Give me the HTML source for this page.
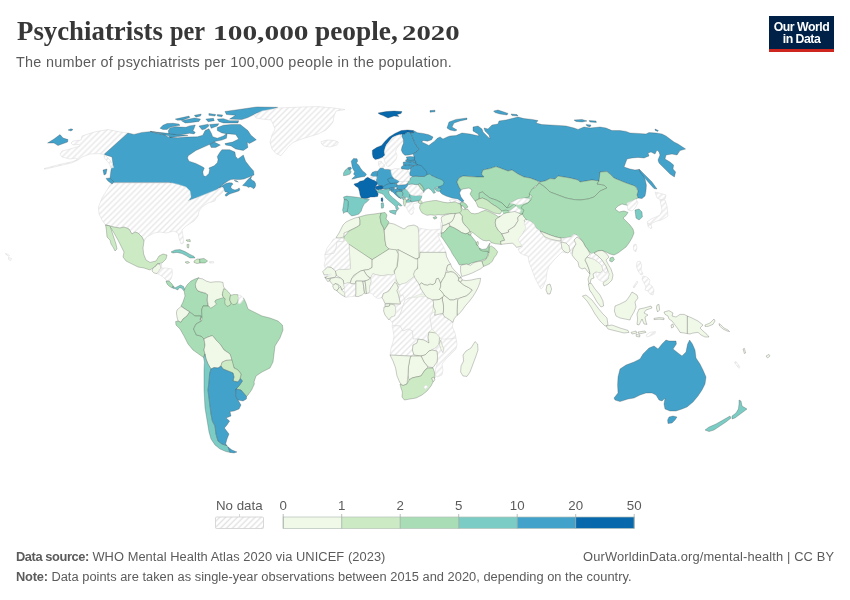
<!DOCTYPE html>
<html lang="en"><head><meta charset="utf-8"><title>Psychiatrists per 100,000 people, 2020</title>
<style>
html,body{margin:0;padding:0;background:#fff;}
body{width:850px;height:600px;position:relative;overflow:hidden;font-family:"Liberation Sans",sans-serif;color:#5b5b5b;}
.abs{position:absolute;white-space:nowrap;}
.w{display:inline-block;transform-origin:left center;white-space:nowrap;}
#title{left:17px;top:16px;font-family:"Liberation Serif",serif;font-weight:bold;font-size:27.5px;line-height:30px;color:#373737;letter-spacing:0px;}
#subtitle{left:16px;top:52.6px;font-size:14.4px;line-height:18px;color:#5b5b5b;letter-spacing:0.27px;}
#logo{left:769px;top:16px;width:65px;height:36px;background:#002147;border-bottom:0;}
#logo .bar{position:absolute;left:0;bottom:0;width:65px;height:3px;background:#ce261e;}
#logo .t{position:absolute;left:0;width:65px;text-align:center;color:#fff;font-weight:bold;font-size:12.3px;line-height:12px;letter-spacing:-0.5px;}
.lg{font-size:13.3px;line-height:14px;color:#5b5b5b;}
.ft{font-size:12.85px;line-height:15px;color:#5b5b5b;}
.ft b{font-weight:bold;}
</style></head><body>
<div id="title" class="abs"><span class="w" style="width:144.6px;transform:scaleX(0.975)">Psychiatrists</span> <span class="w" style="width:34.7px;transform:scaleX(0.885);margin-left:1.4px">per</span> <span class="w" style="width:92.7px;transform:scaleX(1.40);margin-left:1.5px;font-size:21px">100,000</span> <span class="w" style="width:81.1px;transform:scaleX(0.995);margin-left:3px">people,</span> <span class="w" style="width:55.2px;transform:scaleX(1.37);margin-left:-1.4px;font-size:21px">2020</span></div>
<div id="subtitle" class="abs">The number of psychiatrists per 100,000 people in the population.</div>
<div id="logo" class="abs"><div class="t" style="top:4.7px">Our World</div><div class="t" style="top:16.7px">in Data</div><div class="bar"></div></div>
<svg class="abs" style="left:0;top:0" width="850" height="600" viewBox="0 0 850 600">
<defs><pattern id="hatch" patternUnits="userSpaceOnUse" width="5.9" height="5.9" patternTransform="translate(0.8 0)"><rect width="5.9" height="5.9" fill="#fff"/><path d="M-2,2L2,-2M-1,6.9L6.9,-1M3.9,7.9L7.9,3.9" stroke="#e8e8e8" stroke-width="1.4" fill="none"/></pattern><pattern id="hatchl" patternUnits="userSpaceOnUse" width="4.17" height="4.17" patternTransform="translate(218 528) rotate(-45)"><rect width="4.17" height="4.17" fill="#fff"/><line x1="0" y1="2" x2="4.17" y2="2" stroke="#e2e2e2" stroke-width="1.4"/></pattern></defs>
<g id="map">
<path d="M345,250L430,250L450,290L440,340L420,385L406,386L397,350L391,310L386,280L345,275Z" fill="#f0f9e8" stroke="none" stroke-width="0.5" stroke-linejoin="round"/>
<path d="M498,200L530,194L534,214L505,218Z" fill="#a8ddb5" stroke="none" stroke-width="0.5" stroke-linejoin="round"/>
<path d="M47.6,143L54,139L60,134.6L63,138L68,139.6L67.6,142L62,144L58,145.6L54,143Z" fill="#43a2ca" stroke="rgba(50,50,50,0.5)" stroke-width="0.5" stroke-linejoin="round"/>
<path d="M68,130L71,128.8L73,129.6L71,131Z" fill="#43a2ca" stroke="rgba(50,50,50,0.5)" stroke-width="0.5" stroke-linejoin="round"/>
<path d="M128,133L118,131.6L108,129.6L96,131.6L88,134L82,136L81,140L73,141L71,143L73,145L79,144.4L80,146L70,149L62,151L60,154L62,157L70,159L76,158L77,160L71,162L60,164.4L44,168.6L45,169.2L60,165.6L72,162.8L78,160L82,157L90,154L98,153.6L104,154.4Z" fill="url(#hatch)" stroke="#d9d9d9" stroke-width="0.5" stroke-linejoin="round"/>
<path d="M104,154.4L128,133L134,134.4L142,132.4L152,131.4L158,133L168,135.6L170,137.6L178,136.6L188,135.6L150,131.36L156.12,133.04L165.3,135.03L168.35,137.17L177.53,137.78L186.71,137.01L197.42,136.86L202.77,135.18L205.06,130.59L208.89,128.75L211.18,132.88L212.71,136.71L217.3,138.24L223.42,135.94L227.24,132.88L226.48,138.24L221.89,140.07L215.77,141.3L208.12,145.12L195.89,150.47L188.24,155.83L187.47,158.12L189,161.18L195.89,163.48L202,166.53L204.3,168.06L202.77,171.89L203.53,175.71L205.83,176.48L208.89,173.42L209.65,169.59L208.89,168.06L214.24,165.77L217.3,162.71L218.06,159.65L217.3,156.59L219.59,152.77L221.89,149.71L229.54,149.71L234.89,152L235.65,156.59L237.95,158.89L243.3,155.06L245.59,161.18L250,167L253.6,171L254,175L249,177L244,179L240,179.58L236.67,179.58L233.33,179.17L230.83,179.58L228.33,180.83L225,182.92L221.67,185.42L219.58,187.33L222.5,185.42L225.83,183.58L229.17,182.67L232.08,182.92L232.92,184.17L231.25,185.83L230.83,187.5L232.5,189.17L235,190L237.5,189.17L239.17,187.92L239.83,189.17L239.17,190.83L236.67,191.67L234.17,192.5L231.67,193.33L229.17,194.17L227.08,195.83L225.83,196.25L225,195L226.67,193.33L228.33,192.5L225,191.67L224.17,190L223.75,187.92L222.5,187.08L220.42,187.92L219.17,187.67L213,193L204,196L196,198L188,201L191,197L190,193L186,189L178,185L170,183L170,182.6L114,182.6L110,178L111,170L113,164L112,157Z" fill="#43a2ca" stroke="rgba(50,50,50,0.5)" stroke-width="0.5" stroke-linejoin="round"/>
<path d="M242.5,185.42L245,182.92L247.5,180L250,177.5L252.08,176.25L250.83,178.33L251.67,180L254.17,181.25L255.42,183.33L255.67,185.83L254.58,187.92L253.33,188.75L252.08,187.5L250,186.67L248.75,187.5L246.67,186.25L244.17,185.83Z" fill="#43a2ca" stroke="rgba(50,50,50,0.5)" stroke-width="0.5" stroke-linejoin="round"/>
<path d="M234.17,180.42L236.67,180.83L238.33,182.08L235.83,181.5Z" fill="#43a2ca" stroke="rgba(50,50,50,0.5)" stroke-width="0.5" stroke-linejoin="round"/>
<path d="M160,128.24L162.94,125.29L167.06,123.53L172.94,123.29L178.82,124.12L180,125.29L175.29,126.12L170,127.29L167.06,129.41L162.94,129.41Z" fill="#43a2ca" stroke="rgba(50,50,50,0.5)" stroke-width="0.5" stroke-linejoin="round"/>
<path d="M168.24,130.82L170,127.88L175.29,126.71L180,127.06L185.88,127.29L189.41,125.88L195.29,124.94L194.12,128.24L192.94,130.82L195.29,132.35L194.12,133.88L189.41,133.29L185.88,134.12L181.76,134.47L177.65,135.06L172.94,134.12L168.82,133.65Z" fill="#43a2ca" stroke="rgba(50,50,50,0.5)" stroke-width="0.5" stroke-linejoin="round"/>
<path d="M175.24,119.12L189,116.06L189.77,117.59L182.88,119.88L177.53,120.19Z" fill="#43a2ca" stroke="rgba(50,50,50,0.5)" stroke-width="0.5" stroke-linejoin="round"/>
<path d="M181.36,120.65L194.36,118.05L200.47,119.12L198.94,121.41L189.77,122.64L185.18,122.94Z" fill="#43a2ca" stroke="rgba(50,50,50,0.5)" stroke-width="0.5" stroke-linejoin="round"/>
<path d="M194.36,115.3L201.24,114.07L200.47,116.06L195.89,117.13Z" fill="#43a2ca" stroke="rgba(50,50,50,0.5)" stroke-width="0.5" stroke-linejoin="round"/>
<path d="M208.89,113.46L215.77,114.53L215,116.06L208.89,115.3Z" fill="#43a2ca" stroke="rgba(50,50,50,0.5)" stroke-width="0.5" stroke-linejoin="round"/>
<path d="M217.3,114.53L222.65,114.99L221.89,116.82L217.3,116.06Z" fill="#43a2ca" stroke="rgba(50,50,50,0.5)" stroke-width="0.5" stroke-linejoin="round"/>
<path d="M205.83,119.12L213.48,118.35L214.24,120.65L208.12,121.72Z" fill="#43a2ca" stroke="rgba(50,50,50,0.5)" stroke-width="0.5" stroke-linejoin="round"/>
<path d="M224.95,111.47L235.65,109.94L257.07,106.88L277.71,107.34L272.36,109.48L257.07,113L247.89,117.59L241.77,119.58L229.54,119.12L235.65,115.3L226.48,114.53Z" fill="#43a2ca" stroke="rgba(50,50,50,0.5)" stroke-width="0.5" stroke-linejoin="round"/>
<path d="M217.3,119.12L223.42,118.66L229.54,120.65L238.71,120.65L237.95,122.94L223.42,122.94L218.83,121.41Z" fill="#43a2ca" stroke="rgba(50,50,50,0.5)" stroke-width="0.5" stroke-linejoin="round"/>
<path d="M198.94,126L208.12,124.17L208.89,126L205.06,129.06L202,129.83Z" fill="#43a2ca" stroke="rgba(50,50,50,0.5)" stroke-width="0.5" stroke-linejoin="round"/>
<path d="M209.65,124.47L218.83,123.71L217.3,126L211.18,128.3Z" fill="#43a2ca" stroke="rgba(50,50,50,0.5)" stroke-width="0.5" stroke-linejoin="round"/>
<path d="M217.3,127.53L223.42,125.24L231.06,124.47L240.24,124.47L247.89,130.59L250.95,135.18L256.3,139.77L249.42,143.59L247.12,142.06L247.89,147.42L243.3,150.47L235.65,148.94L231.06,145.89L225.71,145.12L224.95,143.59L232.59,142.06L238.71,139L235.65,134.41L226.48,133.65L221.89,132.88L217.3,130.59Z" fill="#43a2ca" stroke="rgba(50,50,50,0.5)" stroke-width="0.5" stroke-linejoin="round"/>
<path d="M209.65,144.36L214.24,142.06L220.36,145.12L215.77,147.42L211.18,147.42Z" fill="#43a2ca" stroke="rgba(50,50,50,0.5)" stroke-width="0.5" stroke-linejoin="round"/>
<path d="M113.6,183L172,183L178,184.4L186,187L190,191L191,197L188,201L196,198L206,194L216,190L222,187L224,190L222,193L216,198L215,201L208,203L202,207L199,211L198,216L194,221L186,226L182,230L183,236L183.6,243L181,244L179,238L178,233L174,231L166,233L160,232L154,233L147,237L144,241L142,237L138,233L135,232L132,234L129,229L124,227L120,228L114,227L105.6,225L102,220L99,214L98.4,207L102,198L107,190L110,185Z" fill="url(#hatch)" stroke="#d9d9d9" stroke-width="0.5" stroke-linejoin="round"/>
<path d="M105.6,225L114,227L120,228L124,227L129,229L132,234L135,232L138,233L142,237L144,241L143,248L143.6,254L146,260L150,262.4L156,261L159,256L163,254L167,255L166,259L162,263L157,264L156,266L153,268L150,270L144,268L138,267L132,264L126,261L123,257L124,252L121,246L118,240L114,233L111,228Z" fill="#ccebc5" stroke="rgba(50,50,50,0.5)" stroke-width="0.5" stroke-linejoin="round"/>
<path d="M105.6,225L110,226L112,232L114,238L116,244L117,249L115,251L113,247L111,244L110,240L107,237L106.4,230Z" fill="#ccebc5" stroke="rgba(50,50,50,0.5)" stroke-width="0.5" stroke-linejoin="round"/>
<path d="M153,268L156,266L157,264L160,264L161,268L159,271L157,273.6L154,273L152,271Z" fill="#f0f9e8" stroke="rgba(50,50,50,0.5)" stroke-width="0.5" stroke-linejoin="round"/>
<path d="M160,264L161.6,263.6L161.6,267.6L161,268Z" fill="url(#hatch)" stroke="#d9d9d9" stroke-width="0.5" stroke-linejoin="round"/>
<path d="M159,271L161,268L166,268L172,269L172.4,274L171,279L169,281L166,280L163,277L160,275L157,273.6Z" fill="url(#hatch)" stroke="#d9d9d9" stroke-width="0.5" stroke-linejoin="round"/>
<path d="M166,281L169,281L172,284L174,287L172,288L169,286L167,284Z" fill="#a8ddb5" stroke="rgba(50,50,50,0.5)" stroke-width="0.5" stroke-linejoin="round"/>
<path d="M171,252L175,250L180,249.6L185,251.6L190,254.4L194,256.4L195,258L190,258L186,255.6L182,253.6L177,252.4L173,253Z" fill="#7bccc4" stroke="rgba(50,50,50,0.5)" stroke-width="0.5" stroke-linejoin="round"/>
<path d="M194,261L197,259L199.6,259L200,263L197,263.6L194,262.4Z" fill="#ccebc5" stroke="rgba(50,50,50,0.5)" stroke-width="0.5" stroke-linejoin="round"/>
<path d="M199.6,259L204,258.4L207.6,261L205,263L200,263Z" fill="#a8ddb5" stroke="rgba(50,50,50,0.5)" stroke-width="0.5" stroke-linejoin="round"/>
<path d="M185,262L188,261.4L189.6,262.6L187,263.6Z" fill="#ccebc5" stroke="rgba(50,50,50,0.5)" stroke-width="0.5" stroke-linejoin="round"/>
<path d="M186,240L190,239.6L190.4,241.6L187,241.2Z" fill="#ccebc5" stroke="rgba(50,50,50,0.5)" stroke-width="0.5" stroke-linejoin="round"/>
<path d="M187,244.4L189,244.4L188.6,248L187.2,247.6Z" fill="#ccebc5" stroke="rgba(50,50,50,0.5)" stroke-width="0.5" stroke-linejoin="round"/>
<path d="M209.6,261.6L213.6,261.6L213.6,263L209.6,263Z" fill="url(#hatch)" stroke="#d9d9d9" stroke-width="0.5" stroke-linejoin="round"/>
<path d="M184,290L187,285L191,281L195,279L199,277.6L197,282L195.6,287L198,291L204,293L208,294L207,300L208,306L203,306L201.6,310L202,317L200,320L201,316L195,316L190,312L185,309L181,306L183,302L185,296Z" fill="#a8ddb5" stroke="rgba(50,50,50,0.5)" stroke-width="0.5" stroke-linejoin="round"/>
<path d="M177,310L181,306.4L185,309L189.6,312L187,316L183,319L181,322.4L178,321L177,317L176.4,313Z" fill="#f0f9e8" stroke="rgba(50,50,50,0.5)" stroke-width="0.5" stroke-linejoin="round"/>
<path d="M175.6,321.6L178,321L181,322.4L183,319L187,316L189.6,312L195,316L201,316L200,320L201.6,321L196,324L193.6,329L196.4,335L201,336L204,339L205,345L204,350L205,354L203.6,357.6L200,355L193,350L188,344L184,336L180,329L176,325Z" fill="#a8ddb5" stroke="rgba(50,50,50,0.5)" stroke-width="0.5" stroke-linejoin="round"/>
<path d="M208,306L211,306L214,303L216,299L220,297L223,294L225,298L227,303L230,302L233,301L237,300L241,300L243.6,298L246,303L248,309L254,312L262,316L270,318L278,321L282.4,325L283,330L280,338L275,346L274,354L273,362L270,368L262,372L256,376L254,382L254.4,384L251.6,390L248,395L246.6,396.6L241,390L236,389L239,386L242.4,381L240.4,378.6L241,374L238,370L234,368L232,362L230,354L224,350L220,344L216,340L212.4,335.6L208,337L204,339L201,336L196.4,335L193.6,329L196,324L201.6,321L202,317L201.6,310L203,306Z" fill="#a8ddb5" stroke="rgba(50,50,50,0.5)" stroke-width="0.5" stroke-linejoin="round"/>
<path d="M204,339L208,337L212.4,335.6L216,340L220,344L224,350L230,354L232,360L226,360.4L222,362.4L221,366L218,368L214,367.6L211,369L208,364L206,359L205,354L204,350L205,345Z" fill="#f0f9e8" stroke="rgba(50,50,50,0.5)" stroke-width="0.5" stroke-linejoin="round"/>
<path d="M222,362.4L226,360.4L232,360L234,368L238,370L241,374L240,379L238,382L233,381L234,377L233,373L228,371L223,369L221,366Z" fill="#ccebc5" stroke="rgba(50,50,50,0.5)" stroke-width="0.5" stroke-linejoin="round"/>
<path d="M203.6,357.6L205,354L206,359L208,364L211,369L209.6,374L209,382L208,390L209,398L210,406L211,414L212.4,421L215,426L216,434L218,441L222,444L227,445.6L228,447L230,452.4L226,451.6L220,449L215,445L211,439L209,432L208,426L207,420L205,408L204,390L204,370L204.4,362Z" fill="#7bccc4" stroke="rgba(50,50,50,0.5)" stroke-width="0.5" stroke-linejoin="round"/>
<path d="M211,369L214,367.6L218,368L221,366L223,369L228,371L233,373L234,377L233,381L238,382L240.4,378.6L242.4,381L239,386L236,389L235.6,396L238,400L241,405L239,409L234,411L230,411.6L231,416L226,418L229.6,421L227,425L224.4,428L229,434L227,439L225.6,444L227,445.6L222,444L218,441L216,434L215,426L212.4,421L211,414L210,406L209,398L208,390L209,382L209.6,374Z" fill="#43a2ca" stroke="rgba(50,50,50,0.5)" stroke-width="0.5" stroke-linejoin="round"/>
<path d="M228,447L232,450L237,452L234,453L230,452.4Z" fill="#43a2ca" stroke="rgba(50,50,50,0.5)" stroke-width="0.5" stroke-linejoin="round"/>
<path d="M236,389L241,390L246.6,396.6L246.4,399L243,401L238,400L235.6,396Z" fill="#43a2ca" stroke="rgba(50,50,50,0.5)" stroke-width="0.5" stroke-linejoin="round"/>
<path d="M254,115L262,111L278,108L302,107L318,106.6L334,108L345,109.6L336,111L334,116L333,122L329,127L326,130L318,134L310,136.4L300,139.6L293,142.4L288,147L284,152L281,155.6L276,153.6L272,149L270,142L272,135L275,129L273,124L271,120L262,119L256,118Z" fill="url(#hatch)" stroke="#d9d9d9" stroke-width="0.5" stroke-linejoin="round"/>
<path d="M321,141.6L327,140L334,140.4L338.4,142L337,145L330,147L324,146L321.6,144Z" fill="url(#hatch)" stroke="#d9d9d9" stroke-width="0.5" stroke-linejoin="round"/>
<path d="M378,113L386,111.6L394,111L402,111.6L401,113.6L397,114.4L399,116.4L394,116L388,118L383,115.6L380,114.4Z" fill="#0868ac" stroke="rgba(50,50,50,0.5)" stroke-width="0.5" stroke-linejoin="round"/>
<path d="M372.35,150.35L376.59,147.53L381.53,145.41L385.06,141.18L389.3,136.94L394.94,133.41L401.3,130.59L407.65,129.88L413.3,130.59L414,132.71L410.47,132.71L407.65,132L404.83,134.12L402,134.12L399.18,134.82L394.94,136.24L392.12,137.65L389.3,141.18L386.47,144.71L385.06,148.24L384.36,151.77L385.06,155.3L382.94,156.99L378.71,158.83L375.18,159.53L373.06,157.41L372.35,153.88Z" fill="#0868ac" stroke="rgba(50,50,50,0.5)" stroke-width="0.5" stroke-linejoin="round"/>
<path d="M385.06,148.24L386.47,144.71L389.3,141.18L392.12,137.65L394.94,136.24L399.18,134.82L402,136.24L403.42,139.77L401.3,143.3L398.47,146.12L396.36,148.94L395.65,151.77L397.06,155.3L396.36,158.83L394.24,161.65L392.12,163.77L390,165.88L387.89,166.59L386.47,165.18L385.06,162.35L384.36,159.53L382.94,156.99L385.06,155.3L384.36,151.77Z" fill="url(#hatch)" stroke="#d9d9d9" stroke-width="0.5" stroke-linejoin="round"/>
<path d="M402,134.12L404.83,134.12L407.65,132L410.47,132.71L411.89,135.53L413.3,139.06L414.71,142.59L416.83,146.12L418.95,148.94L416.83,151.77L413.3,153.88L409.06,155.01L404.83,155.3L402.71,153.18L401.3,150.35L402,146.82L403.42,143.3L403.42,139.77L402,136.24Z" fill="#43a2ca" stroke="rgba(50,50,50,0.5)" stroke-width="0.5" stroke-linejoin="round"/>
<path d="M341,229L343,225L346,222L350,220L355,218L359,217L360,220L360,225L357,227L353,229L349,231L344,233L344,237L339,238L336,237.6L339,233Z" fill="#f0f9e8" stroke="rgba(50,50,50,0.5)" stroke-width="0.5" stroke-linejoin="round"/>
<path d="M359,217L366,215L374,214L381,213L380,217L381,223L383.6,228L384.4,233L385,240L386,246L389,249L380,255L372.4,259.6L369,258L360,252L349.6,245L344,241L344,237L349,231L353,229L357,227L360,225L360,220Z" fill="#ccebc5" stroke="rgba(50,50,50,0.5)" stroke-width="0.5" stroke-linejoin="round"/>
<path d="M381,213L385,212.4L387,215L386,219L389,222L387,226L384.4,230L383.6,228L381,223L380,217Z" fill="#a8ddb5" stroke="rgba(50,50,50,0.5)" stroke-width="0.5" stroke-linejoin="round"/>
<path d="M384.4,230L387,226L389,223L394,224L400,227L404,229L408,226L414,225L418,227L419,234L419,258L416,259L398,249.6L395,250.4L389,249L386,246L385,240L384.4,233Z" fill="#f0f9e8" stroke="rgba(50,50,50,0.5)" stroke-width="0.5" stroke-linejoin="round"/>
<path d="M419,228L424,229L430,230L436,229.6L440,229L441,233L444,239L440,236L438,233L439,238L442,244L445,250L446,252.4L420,252.4L419.4,242L419,234Z" fill="url(#hatch)" stroke="#d9d9d9" stroke-width="0.5" stroke-linejoin="round"/>
<path d="M398,249.6L416,259L419,259L418,266L416,271L415,276L411,279L406,283L402,284L399,285L397,282L395,277L394,272L397,267L398,261L398,254Z" fill="#f0f9e8" stroke="rgba(50,50,50,0.5)" stroke-width="0.5" stroke-linejoin="round"/>
<path d="M399,285L402,284L406,283L411,279L415,276L418,280L422,283L425,288L429,292L424,294L418,295L413,297L408,298L404,302L402,300L400,294L398,289Z" fill="url(#hatch)" stroke="#d9d9d9" stroke-width="0.5" stroke-linejoin="round"/>
<path d="M433,217.6L436,216.4L437,218L434.4,219.2Z" fill="#a8ddb5" stroke="rgba(50,50,50,0.5)" stroke-width="0.5" stroke-linejoin="round"/>
<path d="M384,307L389,306L390,304L395,305L396,310L395,316L391,317L389,320L385,315L383.6,311Z" fill="#f0f9e8" stroke="rgba(50,50,50,0.5)" stroke-width="0.5" stroke-linejoin="round"/>
<path d="M385,304L389.6,303.6L389.6,306L385,306.4Z" fill="#f0f9e8" stroke="rgba(50,50,50,0.5)" stroke-width="0.5" stroke-linejoin="round"/>
<path d="M395,305L400,303L399,296L403,295L405,300L403,306L401,312L399,317L395,320L392,322L390,320L391,317L395,316L396,310Z" fill="url(#hatch)" stroke="#d9d9d9" stroke-width="0.5" stroke-linejoin="round"/>
<path d="M405,300L410,298L418,297L426,296L431,296L434,300L433,306L432,313L430,317L431,323L432,329L429,332L428,337L429,343L424,340L418,339L413,339L412.4,331L408,329L403,331L400,326L393,325.6L392,322L395,320L399,317L401,312L403,306Z" fill="url(#hatch)" stroke="#d9d9d9" stroke-width="0.5" stroke-linejoin="round"/>
<path d="M392,325.6L400,326L403,331L408,329L412.4,331L413,339L418,339L417,343L413,345L412.4,350L414,355L410,356L390,355L391,348L393,342L394,336L393,330Z" fill="url(#hatch)" stroke="#d9d9d9" stroke-width="0.5" stroke-linejoin="round"/>
<path d="M417,343L418,339L424,340L429,343L428,337L429,332L436,333L439.6,337L439,344L437,347L432,350L429,351L425,355L421,356L414,355L412.4,350L413,345Z" fill="#f0f9e8" stroke="rgba(50,50,50,0.5)" stroke-width="0.5" stroke-linejoin="round"/>
<path d="M432,313L436,312L442,314L448,317L453,322L452.4,327L455,333L456,338L450,339L444,340L441,339L439.6,337L436,333L432,329L431,323L430,317Z" fill="url(#hatch)" stroke="#d9d9d9" stroke-width="0.5" stroke-linejoin="round"/>
<path d="M439,344L441,340L442.4,345L444,349L443,353L441,350Z" fill="#f0f9e8" stroke="rgba(50,50,50,0.5)" stroke-width="0.5" stroke-linejoin="round"/>
<path d="M441,339L450,339L456,338L457,344L456,349L451,354L446,359L442,364L443,370L442,375L437,377L435,374L435.6,369L437.6,362L437,356L437,351L432,350L437,347L439,344L441,350L443,353L444,349L442.4,345L441,340Z" fill="url(#hatch)" stroke="#d9d9d9" stroke-width="0.5" stroke-linejoin="round"/>
<path d="M421,356L425,355L429,351L432,350L437,351L437.6,357L437,362L433,367.6L428,367L424,362Z" fill="#f0f9e8" stroke="rgba(50,50,50,0.5)" stroke-width="0.5" stroke-linejoin="round"/>
<path d="M410,358L411,356L421,356L424,362L428,367L425,370L421,376L416,377L412,378L409,380L408,375L408.4,367Z" fill="#f0f9e8" stroke="rgba(50,50,50,0.5)" stroke-width="0.5" stroke-linejoin="round"/>
<path d="M390,355L410,356L411,356L410,358L408.4,367L408,375L407,384L403,385.6L400,383L397,376L395.6,368L393,361Z" fill="#f0f9e8" stroke="rgba(50,50,50,0.5)" stroke-width="0.5" stroke-linejoin="round"/>
<path d="M400,384L403,385.6L407,384L409,380L412,378L416,377L421,376L425,370L428,368L433,368L434.4,372L435,377L433,382L431,386L427,391L422,395L416,398L410,399L404.4,400L402,397L402.4,392L401,388Z" fill="#ccebc5" stroke="rgba(50,50,50,0.5)" stroke-width="0.5" stroke-linejoin="round"/>
<path d="M423.6,387L426,385L428.4,387L425.6,389.6Z" fill="url(#hatch)" stroke="#d9d9d9" stroke-width="0.5" stroke-linejoin="round"/>
<path d="M431.6,378L434,377L435,380L433,381.6Z" fill="#f0f9e8" stroke="rgba(50,50,50,0.5)" stroke-width="0.5" stroke-linejoin="round"/>
<path d="M475,341.6L477.6,344L478,350L476,356L473,364L470,372L467,376.4L463,376L460.6,372L461,366L463.6,361L463,355L466,351L471,348Z" fill="#f0f9e8" stroke="rgba(50,50,50,0.5)" stroke-width="0.5" stroke-linejoin="round"/>
<path d="M413.3,130.59L417.53,132.71L423.18,133.41L428.83,134.82L433.06,136.94L431.65,139.77L427.42,141.18L423.18,140.47L421.77,141.88L426,144L428.83,145.41L431.65,143.3L434.48,141.18L437.3,138.35L440.12,136.94L442.95,139.06L447.18,136.94L450,136L456,135.6L462,133L470,134L479,136L478,134L473,131L473,127L478,126L482,129L483,132L488,137L490,139L489,135L485,131L484,128L488,129L492,125L498,124L499,121L506,120L514,118L518,117L524,118.6L532,119.4L538,120.6L536,123L542,124.6L550,125L558,125.4L566,126L574,128L578,129.4L584,127L590,128L600,127L606,128L612,130.6L620,130.6L626,131.4L630,133L638,133.4L646,134L649,132.6L656,133L662,134L666,136L670,139L674,142L678,144L685.6,149L680,150.6L677,155L672,154L666,155L665,159L670,162L673.6,165L673,169L675.6,172L674.4,177L670,174L666,170L662,166L659,163L658,160L660,155L659,152L657,150L655,154L651,152L648,153L649,156L644,158L638,157.4L632,158L627,159L624,167L630,169L635,170L639,169.4L642,173L645,179L646.4,185L646,191L645,196L642,198.6L638,198L637,195L638,191L637,188L635,186L630,184.6L625,182.6L620,180.6L614,178L610,174L607,171.6L600,172L600,177L599,181L592,180L586,181L580,182L578,180L570,178L564,177L558,176L555,179L550,178.6L545,181L540,182L538,181L530,178L524,177L518,174L512,170L508,171L500,168L496,166.6L490,168.6L483,170L481.6,174L484,177L477,177L470,176.6L463,176L459,178L457,182L459,187L461,190L459.6,193L461,197L464,201L462,202L458,199L452,198L446,196L442,194L440,192L438,187L440,185L440,182L438,179.2L434,176.4L428.83,175.77L424.59,175.06L421.77,172.24L420.36,168.71L417.53,164.9L415.42,163.06L414,160.24L414,156.99L413.3,153.88L416.83,151.77L418.95,148.94L416.83,146.12L414.71,142.59L413.3,139.06L411.89,135.53L410.47,132.71L414,132.71Z" fill="#43a2ca" stroke="rgba(50,50,50,0.5)" stroke-width="0.5" stroke-linejoin="round"/>
<path d="M447,128L449,122L456,119.4L467,118L467,119.4L460,121L454,123L452,127L457,130L455,131L450,130Z" fill="#43a2ca" stroke="rgba(50,50,50,0.5)" stroke-width="0.5" stroke-linejoin="round"/>
<path d="M493.6,111L498,110L504,112L508,113.4L507,115L500,114L495,112.6Z" fill="#43a2ca" stroke="rgba(50,50,50,0.5)" stroke-width="0.5" stroke-linejoin="round"/>
<path d="M511,114L517,114.6L518,116L512,115.6Z" fill="#43a2ca" stroke="rgba(50,50,50,0.5)" stroke-width="0.5" stroke-linejoin="round"/>
<path d="M574,120L582,119.4L587,121L582,122L576,121.4Z" fill="#43a2ca" stroke="rgba(50,50,50,0.5)" stroke-width="0.5" stroke-linejoin="round"/>
<path d="M589,120.6L596,121L596.4,122.4L590,122Z" fill="#43a2ca" stroke="rgba(50,50,50,0.5)" stroke-width="0.5" stroke-linejoin="round"/>
<path d="M586,124.6L591,125L590,127L587,126Z" fill="#43a2ca" stroke="rgba(50,50,50,0.5)" stroke-width="0.5" stroke-linejoin="round"/>
<path d="M430,110.6L435,110.2L435,111.8L430,112.2Z" fill="#43a2ca" stroke="rgba(50,50,50,0.5)" stroke-width="0.5" stroke-linejoin="round"/>
<path d="M639,169L642,172L647,177L652,182L657,189L654,188.6L649,183L644,177L640,172Z" fill="#43a2ca" stroke="rgba(50,50,50,0.5)" stroke-width="0.5" stroke-linejoin="round"/>
<path d="M655,129L658.4,130.6L657.6,131.4L655,130.2Z" fill="#43a2ca" stroke="rgba(50,50,50,0.5)" stroke-width="0.5" stroke-linejoin="round"/>
<path d="M459,178L463,176L470,176.6L477,177L484,177L481.6,174L483,170L490,168.6L496,166.6L500,168L508,171L512,170L518,174L524,177L530,178L538,181L539,184L534,187L533,191L530,193L529,197L524,198L518,199L514,201L510,203L507,208L502,203L496,200L490,198L486,195L482.4,192L479.6,193L479,199L475,201L472,197L470,194L472,190L469,188L463,189L461,190L459,187L457,182Z" fill="#a8ddb5" stroke="rgba(50,50,50,0.5)" stroke-width="0.5" stroke-linejoin="round"/>
<path d="M479,193L482.4,192L486,195L490,198L496,200L502,203L507,208L510,207L514,204L516,206L512,209L509,211L506,210L502,211L497,207L492,204L487,200L482.4,198L479.6,199Z" fill="#a8ddb5" stroke="rgba(50,50,50,0.5)" stroke-width="0.5" stroke-linejoin="round"/>
<path d="M475,201L479,199L482.4,198L487,200L492,204L497,207L502,211L500,214L494,213L488,210L482,208L478,207L476,202Z" fill="#ccebc5" stroke="rgba(50,50,50,0.5)" stroke-width="0.5" stroke-linejoin="round"/>
<path d="M514,201L518,199L524,198L530,199L528,202L523,204L518,205L514,204L510,203Z" fill="url(#hatch)" stroke="#d9d9d9" stroke-width="0.5" stroke-linejoin="round"/>
<path d="M509,211L512,209L516,206L518,208L521,210L520,213L514,213.4L510,214Z" fill="url(#hatch)" stroke="#d9d9d9" stroke-width="0.5" stroke-linejoin="round"/>
<path d="M449,200L454,199.4L459,201L461,203L457,204L452,203Z" fill="url(#hatch)" stroke="#d9d9d9" stroke-width="0.5" stroke-linejoin="round"/>
<path d="M460,203L463,202L466,204L468,207L465,209L463,206L461,206Z" fill="#a8ddb5" stroke="rgba(50,50,50,0.5)" stroke-width="0.5" stroke-linejoin="round"/>
<path d="M457,204.6L460,204L462,207L460,208Z" fill="#ccebc5" stroke="rgba(50,50,50,0.5)" stroke-width="0.5" stroke-linejoin="round"/>
<path d="M539,183L540,182L545,181L550,178.6L555,179L558,176L564,177L570,178L578,180L580,182L586,181L592,180L599,181L597,184L604,185L607,188L600,191L594,197L588,199L580,200L574,199.6L566,198L558,195L550,192L546,188L542,185Z" fill="#a8ddb5" stroke="rgba(50,50,50,0.5)" stroke-width="0.5" stroke-linejoin="round"/>
<path d="M458.24,208.53L460.59,206.76L463.53,209.71L467.65,209.12L469.41,211.47L471.18,213.24L474.71,213.82L478.24,213.24L481.76,211.47L485.29,210.29L488.82,211.47L492.35,213.24L495.88,215L498.24,216.76L500.59,216.18L495.88,219.12L495.29,222.65L495.88,226.18L498.24,230.29L501.76,233.82L503.53,237.35L504.71,240.29L500.59,241.47L501.18,244.41L495.88,243.82L491.18,242.65L489.41,240.29L486.47,240.88L482.94,240.29L479.41,237.94L476.47,235.59L473.53,233.24L471.76,232.06L470,231.47L468.24,228.53L465.29,225.59L462.94,222.65L462,219.12L462.35,216.18L459.41,212.65Z" fill="#ccebc5" stroke="rgba(50,50,50,0.5)" stroke-width="0.5" stroke-linejoin="round"/>
<path d="M448.82,223.24L451.76,221.47L453.53,218.53L455.29,213.24L458.24,212.65L459.41,212.65L462.35,216.18L462,219.12L462.94,222.65L465.29,225.59L468.24,228.53L470,231.47L467.65,233.24L465.29,233.82L461.76,232.65L458.24,230.29L454.12,227.94L450,226.18Z" fill="#f0f9e8" stroke="rgba(50,50,50,0.5)" stroke-width="0.5" stroke-linejoin="round"/>
<path d="M441.76,216.76L445.29,215L450,213.82L455.29,213.24L453.53,218.53L451.76,221.47L448.82,223.24L445.29,225L442.35,225.59L441.76,222.06L441.18,218.53Z" fill="#f0f9e8" stroke="rgba(50,50,50,0.5)" stroke-width="0.5" stroke-linejoin="round"/>
<path d="M440.59,222.65L442,222.65L442.35,225.82L441.76,229.71L440.82,228.53Z" fill="url(#hatch)" stroke="#d9d9d9" stroke-width="0.5" stroke-linejoin="round"/>
<path d="M442.35,225.82L445.29,225L448.82,223.24L450,226.18L447.65,227.94L446.47,229.71L443.53,232.65L441.18,233.24L441.76,229.71Z" fill="#f0f9e8" stroke="rgba(50,50,50,0.5)" stroke-width="0.5" stroke-linejoin="round"/>
<path d="M467.65,233.24L470,231.71L471.41,233.24L470.59,235L468.82,235Z" fill="#ccebc5" stroke="rgba(50,50,50,0.5)" stroke-width="0.5" stroke-linejoin="round"/>
<path d="M441.18,233.24L443.53,232.65L446.47,229.71L447.65,227.94L450,226.18L454.12,227.94L458.24,230.29L461.76,232.65L465.29,233.82L467.65,233.24L468.82,235L470.59,235L472.35,237.35L475.29,240.88L476.47,243.82L478.24,246.18L479.41,248.53L482.35,250.29L488.24,251.47L487.65,255L486.47,258.53L481.76,260.29L477.06,261.47L472.35,262.65L468.82,264.41L465.29,264.41L461.76,264.41L459.41,265L457.06,260.88L454.71,257.35L452.35,253.82L450.59,250.29L448.24,246.76L445.88,243.24L443.53,239.71L441.18,236.18Z" fill="#a8ddb5" stroke="rgba(50,50,50,0.5)" stroke-width="0.5" stroke-linejoin="round"/>
<path d="M476.47,242.06L478,241.47L478.47,243.82L477.65,245.59L476.47,245Z" fill="#ccebc5" stroke="rgba(50,50,50,0.5)" stroke-width="0.5" stroke-linejoin="round"/>
<path d="M495.88,219.12L500.59,216.18L503.53,213.82L507.06,212.65L511.18,212.06L514.71,211.47L517.65,212.65L520.59,213.82L524.12,213.24L519.41,215.59L517.65,217.94L518.24,220.29L516.47,223.24L514.71,226.18L511.18,228.53L508.24,230.29L508.82,232.06L505.29,233.24L501.76,233.82L498.24,230.29L495.88,226.18L495.29,222.65Z" fill="#f0f9e8" stroke="rgba(50,50,50,0.5)" stroke-width="0.5" stroke-linejoin="round"/>
<path d="M501.76,233.82L505.29,233.24L508.82,232.06L508.24,230.29L511.18,228.53L514.71,226.18L516.47,223.24L518.24,220.29L517.65,217.94L519.41,215.59L524.12,213.24L526.47,214.41L527.65,216.76L526.47,219.12L524.12,220.29L525.29,222.65L527.06,225.59L526.47,228.53L524.12,231.47L522.35,235L520,237.94L518.82,239.71L521.18,242.65L522.94,245.59L519.41,246.76L516.47,247.35L514.12,244.41L512.35,243.24L508.82,243.47L505.29,243.82L501.18,244.41L500.59,241.47L504.71,240.29L503.53,237.35Z" fill="#f0f9e8" stroke="rgba(50,50,50,0.5)" stroke-width="0.5" stroke-linejoin="round"/>
<path d="M539,183L542,185L546,188L550,192L558,195L566,198L574,199.6L580,200L588,199L594,197L600,191L607,188L604,185L597,184L599,181L600,172L607,171.6L610,174L614,178L625,182.6L635,186L638,191L637,195L638,198L636,199L632,201L630,206L626,205L622,204L618,206L615,209L619,212L624,211L628,212.4L626,215.6L623,218L626,221L630,225L633,229L634,233L632,238L629,243L626,247L622,250L618,253L614,255L610,254L606,252L602,250.4L598,251L594,253L591,253.6L588,250L585,246L583,242L580,238L577,235L574,234L571,237L566,237.6L561,238L556,237L550,235L545,233L540,231L536,228L534,224L530,221L527,220L524,217L522.4,214L524,210L521,208L523,205L528,203L531,200L532,196L529,194L532,189L536,187Z" fill="#a8ddb5" stroke="rgba(50,50,50,0.5)" stroke-width="0.5" stroke-linejoin="round"/>
<path d="M610,258L613,257L614.4,259.6L612,262L609.6,261Z" fill="#a8ddb5" stroke="rgba(50,50,50,0.5)" stroke-width="0.5" stroke-linejoin="round"/>
<path d="M527,220L530,221L534,224L536,228L540,231L545,238L550,240L556,241L561,242L561,239L566,238L571,237L574,234L578,236L580,239L576,244L573,249L571,254L569,250L566,253L562,252L558,256L554,260L549,266L547,272L546,280L543,287L541,289L538,284L535,278L532,270L529,262L528,256L524,255L520,253L518,249L522.4,247L521,244L518,240L520,237L523,233L526,228L524,223Z" fill="url(#hatch)" stroke="#d9d9d9" stroke-width="0.5" stroke-linejoin="round"/>
<path d="M540,231L545,233L550,235L556,237L561,238L561,241L556,240.4L550,239L545,237Z" fill="#f0f9e8" stroke="rgba(50,50,50,0.5)" stroke-width="0.5" stroke-linejoin="round"/>
<path d="M561,242L566,243L569,246L570,251L568,253L565,252L562,249Z" fill="#f0f9e8" stroke="rgba(50,50,50,0.5)" stroke-width="0.5" stroke-linejoin="round"/>
<path d="M547,285L550,284L551.6,289L550,294L547.6,294L546,290Z" fill="#f0f9e8" stroke="rgba(50,50,50,0.5)" stroke-width="0.5" stroke-linejoin="round"/>
<path d="M574,240L577,237L580,239L583,242L585,246L588,250L590,254L587,257L585,260L587,264L589,269L590,274L588,272L585,268L582,269L579,267L578,262L575,259L572,255L573,249L576,244Z" fill="#f0f9e8" stroke="rgba(50,50,50,0.5)" stroke-width="0.5" stroke-linejoin="round"/>
<path d="M585,260L587,257L590,258L594,259L598,262L602,266L603,270L600,273L596,272L593,274L594,278L591,279L590,284L592,289L595,293L593,294L590,290L589,284L588,279L590,274L589,269L587,264Z" fill="#f0f9e8" stroke="rgba(50,50,50,0.5)" stroke-width="0.5" stroke-linejoin="round"/>
<path d="M590,254L594,253L598,256L602,260L606,266L608,271L605,273L603,270L602,266L598,262L594,259L590,258Z" fill="url(#hatch)" stroke="#d9d9d9" stroke-width="0.5" stroke-linejoin="round"/>
<path d="M598,251L602,250.4L606,253L609,257L606,260L608,264L611,269L613,275L612,280L608,284L604,286L603,283L608,279L609,274L608,271L606,266L602,260L598,256L594,253Z" fill="#f0f9e8" stroke="rgba(50,50,50,0.5)" stroke-width="0.5" stroke-linejoin="round"/>
<path d="M596,272L600,273L603,270L605,273L608,271L609,274L608,279L603,282L599,280L596,276Z" fill="url(#hatch)" stroke="#d9d9d9" stroke-width="0.5" stroke-linejoin="round"/>
<path d="M627,203L632,201L636,199L638,203L635,208L632,211L628,210Z" fill="url(#hatch)" stroke="#d9d9d9" stroke-width="0.5" stroke-linejoin="round"/>
<path d="M635,210L639,209L642,212L642.4,217L639,220L636,218Z" fill="#7bccc4" stroke="rgba(50,50,50,0.5)" stroke-width="0.5" stroke-linejoin="round"/>
<path d="M655,192L659,193L666,195L665,199L661,200L657,198Z" fill="url(#hatch)" stroke="#d9d9d9" stroke-width="0.5" stroke-linejoin="round"/>
<path d="M660,200L665,200L667,206L668,216L665,218L661,220L657,221L652,223L650,227L648,225L647,222L651,219L656,217L660,215L662,210L661,205Z" fill="url(#hatch)" stroke="#d9d9d9" stroke-width="0.5" stroke-linejoin="round"/>
<path d="M648,223L651,225L652,228L650,228.4L648,226.4Z" fill="url(#hatch)" stroke="#d9d9d9" stroke-width="0.5" stroke-linejoin="round"/>
<path d="M633.6,245L636,244L637,248L635.6,252L633.6,250Z" fill="url(#hatch)" stroke="#d9d9d9" stroke-width="0.5" stroke-linejoin="round"/>
<path d="M637,262L640,261L641.6,265L641,270L643,274L641,275L638,271L636.4,266Z" fill="url(#hatch)" stroke="#d9d9d9" stroke-width="0.5" stroke-linejoin="round"/>
<path d="M643,276L647,277L650,280L649,284L652,286L654,290L653,295L650,294L648,291L645,290L646,287L644,283L642,279Z" fill="url(#hatch)" stroke="#d9d9d9" stroke-width="0.5" stroke-linejoin="round"/>
<path d="M633,287L637,281L638,282L634,288Z" fill="url(#hatch)" stroke="#d9d9d9" stroke-width="0.5" stroke-linejoin="round"/>
<path d="M582.4,296L586,295L592,300L598,308L603,314L607,318L608,325L605,326L600,321L595,314L591,307L587,301Z" fill="#f0f9e8" stroke="rgba(50,50,50,0.5)" stroke-width="0.5" stroke-linejoin="round"/>
<path d="M606,326L612,325L620,328L628,330.4L629,332.4L624,333L616,331L608,329Z" fill="#f0f9e8" stroke="rgba(50,50,50,0.5)" stroke-width="0.5" stroke-linejoin="round"/>
<path d="M631,332.4L636,331L637,333L632,334Z" fill="#f0f9e8" stroke="rgba(50,50,50,0.5)" stroke-width="0.5" stroke-linejoin="round"/>
<path d="M638,332L645,331L646,332.4L639,334Z" fill="#f0f9e8" stroke="rgba(50,50,50,0.5)" stroke-width="0.5" stroke-linejoin="round"/>
<path d="M636,334.4L640,335L639.6,337L636.4,336.4Z" fill="#f0f9e8" stroke="rgba(50,50,50,0.5)" stroke-width="0.5" stroke-linejoin="round"/>
<path d="M646,335L650,332.4L655.6,331.6L655,333.6L650,336L647,337Z" fill="url(#hatch)" stroke="#d9d9d9" stroke-width="0.5" stroke-linejoin="round"/>
<path d="M615,306L620,304L626,301L629,297L632,292L637,295L638,298L635,302L636,307L634,312L631,317L630,320L625,319L620,318L616,316L614.4,311Z" fill="#f0f9e8" stroke="rgba(50,50,50,0.5)" stroke-width="0.5" stroke-linejoin="round"/>
<path d="M588.4,284L591,283L595,289L600,295L603,301L603.6,306L601,307L597,302L593,295L589.6,290Z" fill="#f0f9e8" stroke="rgba(50,50,50,0.5)" stroke-width="0.5" stroke-linejoin="round"/>
<path d="M639,309L644,308L651,306L652,308L646,310L644,313L648,315L645,317L646,322L647,324.4L644,324L642,319L640,323L639,325L637,324.4L637.6,319L637,314Z" fill="#f0f9e8" stroke="rgba(50,50,50,0.5)" stroke-width="0.5" stroke-linejoin="round"/>
<path d="M657,305L659,304.4L659.6,310L657.6,312L656.4,308Z" fill="#f0f9e8" stroke="rgba(50,50,50,0.5)" stroke-width="0.5" stroke-linejoin="round"/>
<path d="M654,318.4L659,317.6L664,318L664,319.6L659,319.2L654,319.6Z" fill="#f0f9e8" stroke="rgba(50,50,50,0.5)" stroke-width="0.5" stroke-linejoin="round"/>
<path d="M671,325L673,324L673.6,327L671.6,328Z" fill="#f0f9e8" stroke="rgba(50,50,50,0.5)" stroke-width="0.5" stroke-linejoin="round"/>
<path d="M664,312L669,310.6L673,313L672,316L676,317L680,314.4L684,314.4L687.4,316L687.4,333.6L684,333L680,332.4L678,329L675,325L672,321L669,319L668,316L665,314.4Z" fill="#f0f9e8" stroke="rgba(50,50,50,0.5)" stroke-width="0.5" stroke-linejoin="round"/>
<path d="M687.4,316L692,318L698,321L703,325L700,328L703,331L707,334.4L709,337L705,337L701,335L698,332.4L693,333L690,334L687.4,333.6Z" fill="#f0f9e8" stroke="rgba(50,50,50,0.5)" stroke-width="0.5" stroke-linejoin="round"/>
<path d="M705,325L710,323L714,319L715,321L713,324.4L708,326.4L705,326.4Z" fill="#f0f9e8" stroke="rgba(50,50,50,0.5)" stroke-width="0.5" stroke-linejoin="round"/>
<path d="M719,323.6L721,325L724,328L728,330L729.6,331.6L727,331L723,329L719.6,326Z" fill="#f0f9e8" stroke="rgba(50,50,50,0.5)" stroke-width="0.5" stroke-linejoin="round"/>
<path d="M618,377L620,369L626,365L634,362L640,359L643,354L649,348L654,346L658,349L662,344L666,340L669,341L676,341L676.4,344L673,349L678,353L682,356L686,352L687.6,344L689.6,340L692.4,344L695,350L696,358L700,364L703,370L706,377L705,384L702,390L698,396L693,402L687,407L682,409L676,411L670,411L665,409L664,404L665,398L662,401L659,400L656,395L652,393L646,393L640,395L634,398L628,399L620,401.6L615,400L614,398L618,393L617.6,385Z" fill="#43a2ca" stroke="rgba(50,50,50,0.5)" stroke-width="0.5" stroke-linejoin="round"/>
<path d="M669,417L673,416L677,417L675,420L672,423L668,423.6L667.6,420Z" fill="#43a2ca" stroke="rgba(50,50,50,0.5)" stroke-width="0.5" stroke-linejoin="round"/>
<path d="M739,400L741,401L742,406L747,409L743,412L739,415L735,418L732,419L732,416L736,413L738.4,409L739,404Z" fill="#7bccc4" stroke="rgba(50,50,50,0.5)" stroke-width="0.5" stroke-linejoin="round"/>
<path d="M730,416L731,418L726,422L720,426L714,430L709,431.6L705,430L709,427L716,424L723,420Z" fill="#7bccc4" stroke="rgba(50,50,50,0.5)" stroke-width="0.5" stroke-linejoin="round"/>
<path d="M734.4,362.4L736,361.6L740,367L739,368.4Z" fill="url(#hatch)" stroke="#d9d9d9" stroke-width="0.5" stroke-linejoin="round"/>
<path d="M743,349L744.4,348.4L745.6,353L744.4,353.6Z" fill="#f0f9e8" stroke="rgba(50,50,50,0.5)" stroke-width="0.5" stroke-linejoin="round"/>
<path d="M766,356L769,354.4L770,356L767.6,358Z" fill="#f0f9e8" stroke="rgba(50,50,50,0.5)" stroke-width="0.5" stroke-linejoin="round"/>
<path d="M351.18,161.18L353.53,158.47L357.06,158.82L357.65,161.18L356.47,162.94L358.82,165.29L360.59,168.24L362.94,171.18L365.29,172.94L366.47,174.71L364.71,176.47L361.18,177.06L357.65,177.65L354.12,178.82L351.76,179.18L353.53,177.29L355.29,175.88L353.53,174.12L354.71,171.76L353.53,170L352.35,167.65L351.76,164.12Z" fill="#43a2ca" stroke="rgba(50,50,50,0.5)" stroke-width="0.5" stroke-linejoin="round"/>
<path d="M348.24,167.65L350.59,167.06L351.53,168.82L350,170L348.47,169.41Z" fill="#43a2ca" stroke="rgba(50,50,50,0.5)" stroke-width="0.5" stroke-linejoin="round"/>
<path d="M343.53,172.94L345.29,170L348.24,167.65L348.47,169.41L350,170L351.18,171.76L350,174.12L346.47,175.29L343.53,175.65Z" fill="#7bccc4" stroke="rgba(50,50,50,0.5)" stroke-width="0.5" stroke-linejoin="round"/>
<path d="M377.65,171.18L380,168.24L382.35,167.65L384.71,169.41L388.24,169.41L391.76,170.24L392.35,173.53L393.53,177.06L392.94,180.59L392.94,185.29L390.59,186.47L387.06,186.47L384.12,186.71L381.18,185.88L378.82,185.29L377.65,184.12L376.47,181.76L376.47,178.82L376.47,176.47L377.41,174.12Z" fill="#43a2ca" stroke="rgba(50,50,50,0.5)" stroke-width="0.5" stroke-linejoin="round"/>
<path d="M353.88,184.12L357.65,182.94L360,181.18L363.53,180.59L365.88,178.24L367.65,177.29L370.59,178.82L373.53,180L376.47,181.76L377.65,184.12L375.88,185.88L375.29,188.82L377.06,191.18L378.24,194.12L377.65,196.47L374.12,197.06L370.59,197.06L367.65,198.24L364.71,198.47L361.18,197.65L360,194.71L359.41,191.18L358.24,187.65L355.29,185.88Z" fill="#0868ac" stroke="rgba(50,50,50,0.5)" stroke-width="0.5" stroke-linejoin="round"/>
<path d="M343.53,197.06L346.47,196.12L350.59,196.47L355.29,197.06L360,197.65L364.71,198.82L369.41,199.41L367.06,201.76L364.12,204.12L362.35,207.65L361.18,211.18L358.82,214.12L355.29,215.29L351.76,215.88L349.41,214.12L348.24,212.35L347.06,211.76L347.65,208.82L348,205.29L348.24,201.76L347.06,200L344.12,199.41Z" fill="#7bccc4" stroke="rgba(50,50,50,0.5)" stroke-width="0.5" stroke-linejoin="round"/>
<path d="M344.12,199.41L347.06,200L348.24,201.76L348,205.29L347.65,208.82L347.06,211.76L344.71,212.35L343.53,213.53L342.59,210L343.29,206.47L343.76,202.94Z" fill="#7bccc4" stroke="rgba(50,50,50,0.5)" stroke-width="0.5" stroke-linejoin="round"/>
<path d="M370.59,175.29L372.35,172.35L375.29,171.18L377.65,171.18L377.41,174.12L376.47,176.47L373.53,176.82Z" fill="#43a2ca" stroke="rgba(50,50,50,0.5)" stroke-width="0.5" stroke-linejoin="round"/>
<path d="M370.59,176.82L373.53,176.82L376.47,176.82L376.47,178.82L373.53,179.65L370.59,178.47Z" fill="url(#hatch)" stroke="#d9d9d9" stroke-width="0.5" stroke-linejoin="round"/>
<path d="M375.88,186.47L378.82,185.53L382.35,185.88L384.12,187.41L382.35,189.06L378.82,190L376.47,189.41L375.29,188.24Z" fill="#0868ac" stroke="rgba(50,50,50,0.5)" stroke-width="0.5" stroke-linejoin="round"/>
<path d="M378.24,161.76L381.18,161.18L382.35,163.53L384.71,164.71L384.12,167.06L382.35,167.65L380,167.65L378.59,165.29Z" fill="url(#hatch)" stroke="#d9d9d9" stroke-width="0.5" stroke-linejoin="round"/>
<path d="M377.18,191.06L379.06,189.36L382.82,189.93L385.65,188.99L388.94,188.52L390.54,189.93L388.66,191.53L389.41,194.35L392.24,197.18L395.06,199.53L397.88,201.88L400.71,204.24L402.12,205.65L400.24,206.12L398.35,204.71L397.41,206.59L398.82,208.47L397.41,210.35L396,208.94L395.53,206.59L393.18,204.24L390.35,201.88L387.53,199.53L385.18,197.18L383.76,194.82L381.41,193.41L379.06,192.94L377.65,192.47Z" fill="#7bccc4" stroke="rgba(50,50,50,0.5)" stroke-width="0.5" stroke-linejoin="round"/>
<path d="M389.41,210.82L393.18,210.35L396.94,210.35L396,212.24L395.53,214.59L393.18,213.65L389.88,212.24Z" fill="#7bccc4" stroke="rgba(50,50,50,0.5)" stroke-width="0.5" stroke-linejoin="round"/>
<path d="M381.13,203.11L383.29,202.82L383.76,205.18L383.29,208L381.41,208.19Z" fill="#7bccc4" stroke="rgba(50,50,50,0.5)" stroke-width="0.5" stroke-linejoin="round"/>
<path d="M381.13,198.12L382.64,197.65L383.01,200L382.35,201.88L381.13,200.94Z" fill="#0868ac" stroke="rgba(50,50,50,0.5)" stroke-width="0.5" stroke-linejoin="round"/>
<path d="M385.65,184.94L388,184L391.29,183.53L394.12,183.06L396.94,183.53L397.41,184.94L396.47,186.82L394.12,187.76L391.29,188.05L388.94,188.52L385.65,188.99L382.82,188.71L382.82,187.29Z" fill="#43a2ca" stroke="rgba(50,50,50,0.5)" stroke-width="0.5" stroke-linejoin="round"/>
<path d="M387.53,179.29L390.35,177.88L394.12,178.35L397.88,180.24L399.76,181.65L397.88,183.06L394.12,183.06L391.29,183.53L388.94,182.12Z" fill="#43a2ca" stroke="rgba(50,50,50,0.5)" stroke-width="0.5" stroke-linejoin="round"/>
<path d="M390.82,170.35L395.06,168.47L401.65,168.94L407.29,169.41L408.71,172.24L409.65,175.53L410.12,178.35L408.24,181.18L405.41,181.18L402.59,181.65L399.76,181.65L397.88,180.24L394.12,178.35L392.24,176L391.29,173.18Z" fill="url(#hatch)" stroke="#d9d9d9" stroke-width="0.5" stroke-linejoin="round"/>
<path d="M397.88,183.06L399.76,181.65L402.59,181.65L405.41,181.18L408.24,181.65L407.76,183.53L405.41,184.66L401.65,184.94L398.35,185.22L397.41,184.94Z" fill="url(#hatch)" stroke="#d9d9d9" stroke-width="0.5" stroke-linejoin="round"/>
<path d="M397.41,184.94L398.35,185.22L401.65,184.94L405.41,184.66L407.76,183.53L408.71,184.47L407.29,186.82L405.41,188.71L402.59,189.65L399.29,189.93L396.94,188.71L396.47,186.82Z" fill="#43a2ca" stroke="rgba(50,50,50,0.5)" stroke-width="0.5" stroke-linejoin="round"/>
<path d="M388.94,188.52L391.29,188.05L394.12,187.76L394.59,189.18L392.71,190.31L390.54,189.93Z" fill="#43a2ca" stroke="rgba(50,50,50,0.5)" stroke-width="0.5" stroke-linejoin="round"/>
<path d="M390.54,189.93L392.71,190.31L394.59,189.18L396.94,188.71L399.29,189.93L402.59,190.12L402.12,191.53L398.82,191.53L396,192L396.47,193.88L398.35,196.24L401.18,198.59L398.82,197.65L396,195.29L394.12,193.41L392.71,192L391.29,191.53Z" fill="#43a2ca" stroke="rgba(50,50,50,0.5)" stroke-width="0.5" stroke-linejoin="round"/>
<path d="M396,192L398.82,191.53L402.12,191.53L403.06,193.41L402.59,195.76L402.12,197.65L401.18,198.59L398.35,196.24L396.47,193.88Z" fill="#7bccc4" stroke="rgba(50,50,50,0.5)" stroke-width="0.5" stroke-linejoin="round"/>
<path d="M402.59,190.12L405.41,188.71L406.82,189.65L408.71,192L410.12,194.35L409.65,196.24L410.59,198.12L408.71,199.53L406.82,199.53L405.88,197.65L404,197.18L402.59,195.76L403.06,193.41L402.12,191.53Z" fill="#7bccc4" stroke="rgba(50,50,50,0.5)" stroke-width="0.5" stroke-linejoin="round"/>
<path d="M402.12,197.65L404,197.18L404.94,198.59L403.53,200L402.59,199.06Z" fill="#7bccc4" stroke="rgba(50,50,50,0.5)" stroke-width="0.5" stroke-linejoin="round"/>
<path d="M405.88,197.65L407.29,197.65L407.95,199.06L406.82,200L405.6,199.06Z" fill="url(#hatch)" stroke="#d9d9d9" stroke-width="0.5" stroke-linejoin="round"/>
<path d="M403.53,200L404.94,198.59L405.6,199.06L406.35,200.47L406.16,203.29L405.41,205.65L404.28,206.12L403.53,203.76L403.34,201.41Z" fill="#ccebc5" stroke="rgba(50,50,50,0.5)" stroke-width="0.5" stroke-linejoin="round"/>
<path d="M406.82,200L408.71,199.53L410.59,200L411.06,201.88L409.18,202.82L406.82,202.82L406.35,201.41Z" fill="#7bccc4" stroke="rgba(50,50,50,0.5)" stroke-width="0.5" stroke-linejoin="round"/>
<path d="M406.16,203.29L406.82,202.82L409.18,202.82L411.06,201.88L413.88,201.41L417.65,200.94L418.59,202.35L415.76,203.29L413.41,203.76L412.94,206.12L414.35,208.94L412.94,210.35L413.41,212.71L412,214.59L410.12,214.12L408.24,211.29L406.82,208.47L405.41,206.12Z" fill="url(#hatch)" stroke="#d9d9d9" stroke-width="0.5" stroke-linejoin="round"/>
<path d="M410.12,194.35L412,195.29L415.76,195.76L419.53,195.29L421.88,195.76L421.41,198.12L420.47,199.53L418.59,200.94L417.65,200.94L413.88,201.41L411.06,201.88L410.59,200L410.59,198.12L409.65,196.24Z" fill="#7bccc4" stroke="rgba(50,50,50,0.5)" stroke-width="0.5" stroke-linejoin="round"/>
<path d="M407.29,186.82L408.71,184.47L412,184L415.76,184.66L418.12,184.47L419.53,186.82L421.41,189.18L423.29,191.06L423.76,192.47L421.88,193.41L421.88,195.76L419.53,195.29L415.76,195.76L412,195.29L410.12,194.35L408.71,192L406.82,189.65L405.41,188.71Z" fill="url(#hatch)" stroke="#d9d9d9" stroke-width="0.5" stroke-linejoin="round"/>
<path d="M418.12,184.47L419.53,183.53L421.41,184.66L422.82,186.82L424.24,189.18L423.29,191.06L421.41,189.18L419.53,186.82Z" fill="#a8ddb5" stroke="rgba(50,50,50,0.5)" stroke-width="0.5" stroke-linejoin="round"/>
<path d="M410.12,178.35L412.47,176.47L415.76,176L419.53,176.47L424.24,176.47L427.06,174.59L429.88,174.12L432.24,176L435.53,177.41L439.29,178.82L442.59,180.24L444,182.59L443.06,184.94L440.24,186.35L437.41,186.82L434.59,188.24L434.12,190.12L435.53,192.47L433.65,193.41L432.24,191.53L430.82,189.65L428.47,188.24L426.12,189.18L424.24,191.53L423.76,192.47L423.29,191.06L424.24,189.18L422.82,186.82L421.41,184.66L419.53,183.53L418.12,184.47L415.76,184.66L412,184L408.71,184.47L407.76,183.53L408.24,181.65L410.12,180.24Z" fill="#7bccc4" stroke="rgba(50,50,50,0.5)" stroke-width="0.5" stroke-linejoin="round"/>
<path d="M435.06,188.71L437.41,187.76L440.24,188.24L441.18,189.65L438.82,191.53L436.47,191.06L435.53,190.12Z" fill="#7bccc4" stroke="rgba(50,50,50,0.5)" stroke-width="0.5" stroke-linejoin="round"/>
<path d="M410.12,168L413.88,165.65L417.65,164.71L421.41,165.65L424.24,168.94L426.59,171.76L427.06,174.59L424.24,176.47L419.53,176.47L415.76,176L412.47,176.47L410.12,175.53L409.65,173.18L410.59,170.35Z" fill="#43a2ca" stroke="rgba(50,50,50,0.5)" stroke-width="0.5" stroke-linejoin="round"/>
<path d="M401.18,167.06L403.53,165.18L407.29,164.71L411.06,165.18L413.88,165.65L410.12,168L409.18,169.41L407.29,169.41L403.53,168.94L401.65,168.94Z" fill="#43a2ca" stroke="rgba(50,50,50,0.5)" stroke-width="0.5" stroke-linejoin="round"/>
<path d="M403.06,162.35L406.35,161.41L410.12,161.88L412.94,161.41L415.76,163.29L417.65,164.71L413.88,165.65L411.06,165.18L407.29,164.71L403.53,165.18Z" fill="#43a2ca" stroke="rgba(50,50,50,0.5)" stroke-width="0.5" stroke-linejoin="round"/>
<path d="M405.41,160L408.24,159.06L412.94,159.53L415.76,160.94L415.76,163.29L412.94,161.41L410.12,161.88L406.35,161.41Z" fill="#43a2ca" stroke="rgba(50,50,50,0.5)" stroke-width="0.5" stroke-linejoin="round"/>
<path d="M420,205.18L421.88,203.29L425.18,201.88L428.94,201.41L432.71,200.66L436.47,200.47L440.24,201.41L444,202.35L447.76,202.82L451.53,202.35L455.29,201.88L458.12,203.29L460.47,204.24L460.94,207.06L461.41,210.82L460,212.71L457.18,213.18L453.41,213.65L449.65,213.46L445.88,214.12L442.12,215.06L438.35,214.59L434.59,215.34L430.82,214.78L427.06,215.34L424.24,214.12L421.88,212.71L420.47,210.35L419.53,208Z" fill="#ccebc5" stroke="rgba(50,50,50,0.5)" stroke-width="0.5" stroke-linejoin="round"/>
<path d="M418.59,200.94L420.47,200.28L422.35,201.88L421.41,203.48L419.53,203.76L418.4,202.35Z" fill="#ccebc5" stroke="rgba(50,50,50,0.5)" stroke-width="0.5" stroke-linejoin="round"/>
<path d="M406.24,156.99L410.47,156.43L414.71,156.99L414.43,159.81L410.47,160.52L407.37,159.81Z" fill="#43a2ca" stroke="rgba(50,50,50,0.5)" stroke-width="0.5" stroke-linejoin="round"/>
<path d="M103,170L107,169L106,174L104,175Z" fill="#43a2ca" stroke="rgba(50,50,50,0.5)" stroke-width="0.5" stroke-linejoin="round"/>
<path d="M106,178.4L110,178L114,182L112,184L108,181Z" fill="#43a2ca" stroke="rgba(50,50,50,0.5)" stroke-width="0.5" stroke-linejoin="round"/>
<path d="M104,154.4L107,157L110,160L112.4,164L113.6,167.6L111,168L109.6,164L107,161L104.4,158Z" fill="url(#hatch)" stroke="#d9d9d9" stroke-width="0.5" stroke-linejoin="round"/>
<path d="M348.83,244.12L372.12,259.65L372.12,267.41L368.59,269.53L363.65,270.24L360.83,270.94L357.3,273.06L353.77,275.18L351.65,278.71L350.24,282.94L347.41,282.94L343.88,284.36L343.18,280.12L340.35,278L336.12,275.18L335.41,270.94L338.24,269.53L350.24,268.83L349.53,253.3Z" fill="#f0f9e8" stroke="rgba(50,50,50,0.5)" stroke-width="0.5" stroke-linejoin="round"/>
<path d="M372.12,259.65L389.06,249.06L396.12,249.77L398.24,254L397.53,261.06L396.83,266.71L394,270.94L394.71,273.77L391.89,275.18L387.65,274.9L382,275.88L376.36,274.9L372.83,273.77L370.71,278L367.89,276.59L365.77,273.77L363.65,270.24L368.59,269.53L372.12,267.41Z" fill="#f0f9e8" stroke="rgba(50,50,50,0.5)" stroke-width="0.5" stroke-linejoin="round"/>
<path d="M324.82,254.71L326.94,248.35L330.47,243.41L333.3,239.18L336.12,238.47L343.88,238.47L343.88,241.29L336.82,242L336.12,248.35L334,253.3L329.77,254Z" fill="url(#hatch)" stroke="#d9d9d9" stroke-width="0.5" stroke-linejoin="round"/>
<path d="M324.82,254.71L329.77,254L334,253.3L336.12,248.35L336.82,242L343.88,241.29L343.88,238.47L348.83,244.12L349.53,253.3L350.24,268.83L338.24,269.53L335.41,270.94L331.18,267.41L327.65,266.99L325.53,268.83L324.12,265.3L325.25,260.35Z" fill="url(#hatch)" stroke="#d9d9d9" stroke-width="0.5" stroke-linejoin="round"/>
<path d="M322.71,271.65L325.53,268.83L327.65,266.99L331.18,267.41L335.41,270.94L336.12,275.18L335.41,277.3L331.18,277.72L327.65,278.71L324.82,277.3L328.35,275.88L328.07,274.9L324.12,274.9Z" fill="#f0f9e8" stroke="rgba(50,50,50,0.5)" stroke-width="0.5" stroke-linejoin="round"/>
<path d="M324.12,274.9L328.07,274.9L330.9,273.77L331.18,275.18L328.07,276.03L324.4,276.03Z" fill="url(#hatch)" stroke="#d9d9d9" stroke-width="0.5" stroke-linejoin="round"/>
<path d="M324.82,277.3L327.65,278.71L330.47,278.71L329.77,280.83L327.65,281.53Z" fill="#f0f9e8" stroke="rgba(50,50,50,0.5)" stroke-width="0.5" stroke-linejoin="round"/>
<path d="M329.77,280.83L330.47,278.71L335.41,277.3L340.35,278L343.18,280.12L343.88,284.36L344.59,287.89L341.77,290L340.35,286.47L338.24,284.36L335.41,283.65L333.3,285.06L331.18,282.94Z" fill="#f0f9e8" stroke="rgba(50,50,50,0.5)" stroke-width="0.5" stroke-linejoin="round"/>
<path d="M332.59,285.77L335.41,283.65L338.24,285.06L338.94,287.89L336.82,290.71L334,289.3Z" fill="#f0f9e8" stroke="rgba(50,50,50,0.5)" stroke-width="0.5" stroke-linejoin="round"/>
<path d="M336.82,290.99L338.94,287.89L340.35,286.47L341.77,290L344.59,292.83L345.3,297.06L341.77,294.94L338.94,292.83Z" fill="#f0f9e8" stroke="rgba(50,50,50,0.5)" stroke-width="0.5" stroke-linejoin="round"/>
<path d="M343.88,284.36L347.41,282.94L350.94,283.65L355.18,283.65L355.88,287.89L355.88,293.53L355.18,296.36L350.24,296.64L345.58,297.49L344.59,292.83L344.59,287.89Z" fill="url(#hatch)" stroke="#d9d9d9" stroke-width="0.5" stroke-linejoin="round"/>
<path d="M350.24,282.94L351.65,278.71L357.3,273.06L360.83,270.94L363.65,270.24L365.77,273.77L367.89,276.59L370.71,278L367.89,280.12L365.06,280.83L360.83,281.11L355.88,281.11L355.18,283.65L350.94,283.65Z" fill="#f0f9e8" stroke="rgba(50,50,50,0.5)" stroke-width="0.5" stroke-linejoin="round"/>
<path d="M355.88,281.11L360.83,281.11L362.94,281.53L363.65,286.47L364.36,292.83L362.24,294.94L358,296.64L355.46,296.36L355.88,293.53L355.88,287.89Z" fill="#f0f9e8" stroke="rgba(50,50,50,0.5)" stroke-width="0.5" stroke-linejoin="round"/>
<path d="M362.94,281.53L365.06,281.11L365.77,286.47L366.47,293.53L364.78,293.81L363.65,286.47Z" fill="#f0f9e8" stroke="rgba(50,50,50,0.5)" stroke-width="0.5" stroke-linejoin="round"/>
<path d="M365.06,280.83L367.89,280.12L370.71,278L371.41,281.53L370,285.77L369.3,292.83L366.47,293.53L365.77,286.47Z" fill="#f0f9e8" stroke="rgba(50,50,50,0.5)" stroke-width="0.5" stroke-linejoin="round"/>
<path d="M370.71,278L372.83,273.77L376.36,274.9L382,275.88L387.65,274.9L391.89,275.18L394.71,273.77L396.12,278L394.71,282.24L391.89,286.47L389.06,290.71L386.94,292.12L383.42,293.53L382,297.77L377.77,298.47L374.24,296.36L372.12,293.53L369.3,292.83L370,285.77L371.41,281.53Z" fill="url(#hatch)" stroke="#d9d9d9" stroke-width="0.5" stroke-linejoin="round"/>
<path d="M383.42,293.53L386.94,292.12L389.06,290.71L391.89,286.47L394.71,282.24L396.83,283.65L398.24,287.89L396.83,290.71L398.24,294.24L399.65,299.89L400.36,304.12L395.42,303.7L390.47,303.42L384.83,303.42L383.42,299.89L382,297.77Z" fill="#f0f9e8" stroke="rgba(50,50,50,0.5)" stroke-width="0.5" stroke-linejoin="round"/>
<path d="M481.76,261.18L485.29,260L488.24,255.88L488.82,252.94L489.06,247.06L491.18,245.88L494.71,248.24L497.65,251.76L496.47,254.71L494.12,257.65L492.35,261.18L490,263.53L486.47,265.29L483.53,266.47Z" fill="#ccebc5" stroke="rgba(50,50,50,0.5)" stroke-width="0.5" stroke-linejoin="round"/>
<path d="M479.41,248.24L482.35,249.41L486.47,248.82L488.82,244.71L490,242.94L489.06,247.06L488.82,252.94L487.65,251.18L482.94,251.18L480,250Z" fill="#a8ddb5" stroke="rgba(50,50,50,0.5)" stroke-width="0.5" stroke-linejoin="round"/>
<path d="M460.59,265.88L462.94,264.71L466.47,264.12L470.59,265.29L473.53,262.94L477.06,261.76L481.76,261.18L483.53,266.47L480.59,268.82L477.06,270.59L472.35,272.94L467.65,274.71L464.12,275.88L461.76,276.47L460.59,271.76Z" fill="#f0f9e8" stroke="rgba(50,50,50,0.5)" stroke-width="0.5" stroke-linejoin="round"/>
<path d="M420,252.35L445.88,252.35L446.47,256.47L448.82,261.18L450.59,264.12L447.65,265.29L446.47,269.41L445.88,272.35L444.71,276.47L442.35,280L440.59,283.53L439.41,280.59L438.24,278.24L436.47,278.82L435.29,282.94L432.94,284.71L430,284.12L427.65,285.29L424.12,284.71L421.76,282.94L419.41,284.71L417.06,281.18L414.71,277.65L413.53,274.12L415.29,270L417.65,268.82L417.65,258.24L419.41,257.65Z" fill="#f0f9e8" stroke="rgba(50,50,50,0.5)" stroke-width="0.5" stroke-linejoin="round"/>
<path d="M446.47,269.41L447.65,265.29L450.59,264.12L451.76,267.06L454.12,270L457.06,272.94L460,275.88L461.18,277.65L458.82,278.24L456.47,274.71L453.53,272.35L450.59,271.76L448.24,272.35Z" fill="#f0f9e8" stroke="rgba(50,50,50,0.5)" stroke-width="0.5" stroke-linejoin="round"/>
<path d="M445.88,272.35L448.24,272.35L450.59,271.76L453.53,272.35L456.47,274.71L458.82,278.24L458.24,280.59L460.59,282.35L464.12,285.29L468.82,287.65L472.35,290L469.41,293.53L466.47,295.88L462.94,297.06L459.41,298.24L456.47,298.82L453.53,300L450,300L447.06,297.65L444.12,295.29L441.76,291.76L439.41,289.41L440.59,286.47L440.59,283.53L442.35,280L444.71,276.47Z" fill="#f0f9e8" stroke="rgba(50,50,50,0.5)" stroke-width="0.5" stroke-linejoin="round"/>
<path d="M458.82,278.24L461.18,277.65L462.35,280L460.59,281.76L458.24,280.59Z" fill="#f0f9e8" stroke="rgba(50,50,50,0.5)" stroke-width="0.5" stroke-linejoin="round"/>
<path d="M462.35,280L465.88,280.59L471.18,280L476.47,278.82L480.59,278.24L480,282.35L478.24,287.06L475.88,291.76L472.94,296.47L469.41,301.18L465.29,305.88L462.35,310L459.41,313.53L457.06,315.29L457.06,310.59L457.65,300L459.41,298.24L462.94,297.06L466.47,295.88L469.41,293.53L472.35,290L468.82,287.65L464.12,285.29L460.59,282.35Z" fill="#f0f9e8" stroke="rgba(50,50,50,0.5)" stroke-width="0.5" stroke-linejoin="round"/>
<path d="M419.41,284.71L421.76,282.94L424.12,284.71L427.65,285.29L430,284.12L432.94,284.71L435.29,282.94L436.47,278.82L438.24,278.24L439.41,280.59L440.59,283.53L440.59,286.47L439.41,289.41L441.76,291.76L444.12,295.29L442.35,297.65L439.41,299.41L435.88,300L432.94,300L430,298.82L427.06,297.65L424.71,294.71L422.35,291.18L420.59,288.24Z" fill="#f0f9e8" stroke="rgba(50,50,50,0.5)" stroke-width="0.5" stroke-linejoin="round"/>
<path d="M444.12,295.29L447.06,297.65L450,300L453.53,300L456.47,298.82L457.65,300L457.06,310.59L457.06,315.29L454.12,318.82L452.94,322.35L448.82,319.41L444.12,316.47L442.94,313.53L443.53,310.59L443.53,305.88L442.35,300L442.35,297.65Z" fill="#f0f9e8" stroke="rgba(50,50,50,0.5)" stroke-width="0.5" stroke-linejoin="round"/>
<path d="M432.94,300L435.88,300L439.41,299.41L442.35,297.65L442.35,300L443.53,305.88L443.53,310.59L442.94,313.53L439.41,314.12L434.71,315.29L435.29,310.59L433.53,307.06L433.53,303.53Z" fill="#f0f9e8" stroke="rgba(50,50,50,0.5)" stroke-width="0.5" stroke-linejoin="round"/>
<path d="M8.47,257.53L11.58,258.52L10.59,260.5L8.75,259.65Z" fill="url(#hatch)" stroke="#d9d9d9" stroke-width="0.5" stroke-linejoin="round"/>
<path d="M5.36,253.44L7.77,254.28L9.6,255.7L8.75,256.26L6.35,254.85Z" fill="url(#hatch)" stroke="#d9d9d9" stroke-width="0.5" stroke-linejoin="round"/>
<path d="M198.24,278.24L202.35,278.82L206.47,281.18L210.59,282.35L215.29,281.76L219.41,281.76L222.94,282.35L223.53,286.47L225.29,289.41L222.94,291.76L222.35,294.71L223.53,297.65L219.41,298.82L215.88,300L214.71,301.76L216.47,304.12L213.53,306.47L210.59,308.24L208.24,305.29L207.65,301.76L207.41,298.24L207.65,294.71L205.29,292.94L200.59,291.76L197.65,290.59L195.88,287.65L195.29,284.71L196.47,281.18Z" fill="#f0f9e8" stroke="rgba(50,50,50,0.5)" stroke-width="0.5" stroke-linejoin="round"/>
<path d="M223.53,288.82L225.88,289.41L228.24,291.76L230.59,294.71L230,297.65L229.41,300L231.18,302.94L230,305.29L227.06,306.47L225.06,304.12L224.71,301.18L225.29,298.82L223.53,297.65L222.35,294.71L222.94,291.76Z" fill="#ccebc5" stroke="rgba(50,50,50,0.5)" stroke-width="0.5" stroke-linejoin="round"/>
<path d="M230.59,295.29L234.12,294.47L238,294.71L238.47,298.24L237.65,301.76L235.88,304.12L232.94,304.71L231.18,302.94L229.76,300L230,297.65Z" fill="#ccebc5" stroke="rgba(50,50,50,0.5)" stroke-width="0.5" stroke-linejoin="round"/>
<path d="M238.24,295.29L240.59,295.29L242.94,297.65L243.53,299.41L241.76,302.35L240,304.12L238,303.53L238.47,298.82Z" fill="url(#hatch)" stroke="#d9d9d9" stroke-width="0.5" stroke-linejoin="round"/>
<path d="M172.35,286.47L175.29,287.65L177.65,286.47L180.59,285.06L183.53,286.47L184.71,289.41L183.53,290.59L181.76,288.24L179.41,287.65L177.65,290L175.29,288.82L172.94,288.24Z" fill="#7bccc4" stroke="rgba(50,50,50,0.5)" stroke-width="0.5" stroke-linejoin="round"/>
</g>
<g id="legend">
<rect x="215.5" y="517" width="48" height="11.5" rx="1" fill="url(#hatchl)" stroke="#cfcfcf" stroke-width="0.8"/>
<line x1="239.5" y1="514" x2="239.5" y2="517" stroke="#cfcfcf" stroke-width="0.8"/>
<rect x="283.2" y="517" width="58.5" height="11.5" fill="#f0f9e8"/>
<rect x="341.7" y="517" width="58.5" height="11.5" fill="#ccebc5"/>
<rect x="400.2" y="517" width="58.5" height="11.5" fill="#a8ddb5"/>
<rect x="458.7" y="517" width="58.5" height="11.5" fill="#7bccc4"/>
<rect x="517.2" y="517" width="58.5" height="11.5" fill="#43a2ca"/>
<rect x="575.7" y="517" width="58.5" height="11.5" fill="#0868ac"/>
<rect x="283.2" y="517" width="351" height="11.5" fill="none" stroke="#b5c0b8" stroke-width="0.7"/>
<g stroke="#9aa79e" stroke-width="0.7"><line x1="283.2" y1="514" x2="283.2" y2="528.5"/><line x1="341.7" y1="514" x2="341.7" y2="528.5"/><line x1="400.2" y1="514" x2="400.2" y2="528.5"/><line x1="458.7" y1="514" x2="458.7" y2="528.5"/><line x1="517.2" y1="514" x2="517.2" y2="528.5"/><line x1="575.7" y1="514" x2="575.7" y2="528.5"/><line x1="634.2" y1="514" x2="634.2" y2="528.5"/></g>
</g>
</svg>
<div class="abs lg" style="left:216px;top:498.8px;">No data</div>
<div class="abs lg" style="left:263.2px;top:498.8px;width:40px;text-align:center;">0</div>
<div class="abs lg" style="left:321.7px;top:498.8px;width:40px;text-align:center;">1</div>
<div class="abs lg" style="left:380.2px;top:498.8px;width:40px;text-align:center;">2</div>
<div class="abs lg" style="left:438.7px;top:498.8px;width:40px;text-align:center;">5</div>
<div class="abs lg" style="left:497.2px;top:498.8px;width:40px;text-align:center;">10</div>
<div class="abs lg" style="left:555.7px;top:498.8px;width:40px;text-align:center;">20</div>
<div class="abs lg" style="left:614.2px;top:498.8px;width:40px;text-align:center;">50</div>
<div class="abs ft" style="left:16px;top:548.7px;letter-spacing:0.07px;"><b style="letter-spacing:-0.42px">Data source:</b> WHO Mental Health Atlas 2020 via UNICEF (2023)</div>
<div class="abs ft" style="right:15.8px;top:548.7px;letter-spacing:0.15px;">OurWorldinData.org/mental-health | CC BY</div>
<div class="abs ft" style="left:16px;top:568.8px;letter-spacing:0.02px;"><b style="letter-spacing:-0.2px">Note:</b> Data points are taken as single-year observations between 2015 and 2020, depending on the country.</div>

</body></html>
